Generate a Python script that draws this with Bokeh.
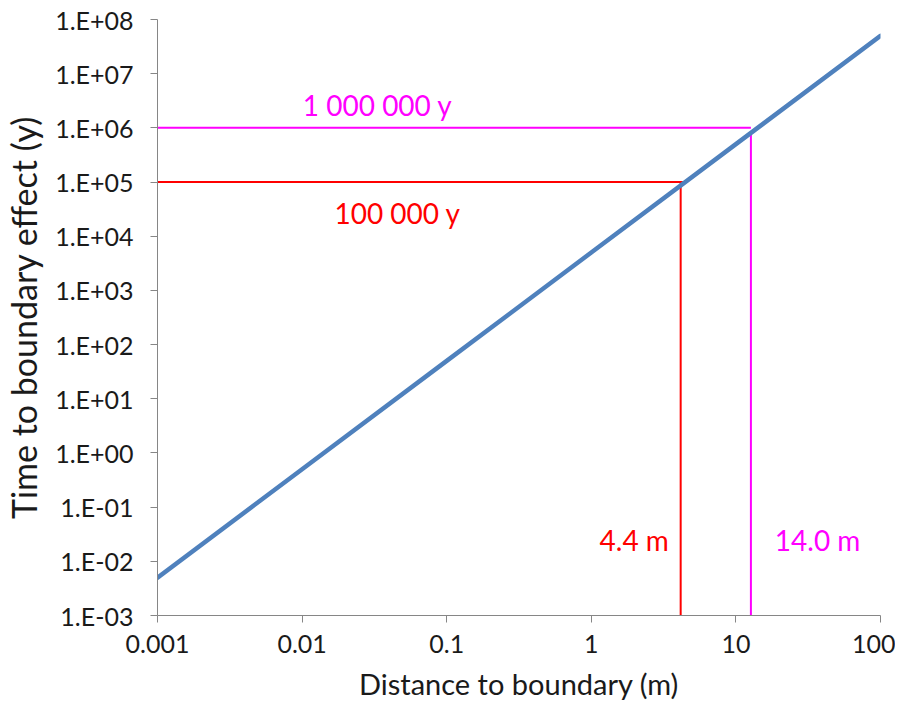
from bokeh.plotting import figure
from bokeh.models import FixedTicker, Label
from bokeh.embed import file_html
from bokeh.resources import INLINE

# Data
distance_m = [0.001, 0.01, 0.1, 1, 10, 100]
time_y = [5e-3, 5e-1, 5e1, 5e3, 5e5, 5e7]

red_time = 1e5
red_dist = 4.15
red_label_t = "100 000 y"
red_label_d = "4.4 m"

mag_time = 1e6
mag_dist = 12.7
mag_end_t = 8.3e5
mag_label_t = "1 000 000 y"
mag_label_d = "14.0 m"

x_ticks = [0.001, 0.01, 0.1, 1, 10, 100]
x_tick_labels = ["0.001", "0.01", "0.1", "1", "10", "100"]
y_ticks = [1e-3, 1e-2, 1e-1, 1e0, 1e1, 1e2, 1e3, 1e4, 1e5, 1e6, 1e7, 1e8]
y_tick_labels = ["1.E-03", "1.E-02", "1.E-01", "1.E+00", "1.E+01", "1.E+02",
                 "1.E+03", "1.E+04", "1.E+05", "1.E+06", "1.E+07", "1.E+08"]

FONT = "Lato"
TXT = "#1a1a1a"
RED = "#ff0000"
MAG = "#ff00ff"
BLUE = "#4f81bd"

p = figure(width=895, height=703, x_axis_type="log", y_axis_type="log",
           x_range=(x_ticks[0], x_ticks[-1]), y_range=(y_ticks[0], y_ticks[-1]),
           output_backend="svg", toolbar_location=None,
           min_border_left=154, min_border_right=15, min_border_top=19, min_border_bottom=88)
p.outline_line_color = None
p.grid.visible = False
p.background_fill_color = "white"

# reference lines
p.line([x_ticks[0], red_dist + 0.15], [red_time, red_time], line_color=RED, line_width=2)
p.line([red_dist, red_dist], [y_ticks[0], red_time], line_color=RED, line_width=2)
p.line([x_ticks[0], mag_dist], [mag_time, mag_time], line_color=MAG, line_width=2)
p.line([mag_dist, mag_dist], [y_ticks[0], mag_end_t], line_color=MAG, line_width=2)

p.line(distance_m, time_y, line_color=BLUE, line_width=4.5, line_cap="round")

# labels
LBL = "28px"
p.add_layout(Label(x=0.0333, y=2.6e6, text=mag_label_t, text_color=MAG, text_font=FONT,
                   text_font_size=LBL, text_align="center", text_baseline="middle"))
p.add_layout(Label(x=0.0457, y=2.7e4, text=red_label_t, text_color=RED, text_font=FONT,
                   text_font_size=LBL, text_align="center", text_baseline="middle"))
p.add_layout(Label(x=3.44, y=0.0245, text=red_label_d, text_color=RED, text_font=FONT,
                   text_font_size=LBL, text_align="right", text_baseline="middle"))
p.add_layout(Label(x=18.6, y=0.0245, text=mag_label_d, text_color=MAG, text_font=FONT,
                   text_font_size=LBL, text_align="left", text_baseline="middle"))

for ax in (p.xaxis[0], p.yaxis[0]):
    ax.axis_line_color = "#868686"
    ax.major_tick_line_color = "#868686"
    ax.minor_tick_line_color = None
    ax.major_tick_out = 7
    ax.major_tick_in = 0
    ax.major_label_text_font = FONT
    ax.major_label_text_font_size = "25px"
    ax.major_label_text_color = TXT
    ax.axis_label_text_font = FONT
    ax.axis_label_text_color = TXT
    ax.axis_label_text_font_style = "normal"

p.xaxis.ticker = FixedTicker(ticks=x_ticks)
p.xaxis.major_label_overrides = {t: l for t, l in zip(x_ticks, x_tick_labels)}
p.yaxis.ticker = FixedTicker(ticks=y_ticks)
p.yaxis.major_label_overrides = {t: l for t, l in zip(y_ticks, y_tick_labels)}
p.xaxis.major_label_standoff = 12
p.yaxis.major_label_standoff = 17
p.xaxis.axis_label = "Distance to boundary (m)"
p.yaxis.axis_label = "Time to boundary effect (y)"
p.xaxis.axis_label_text_font_size = "29px"
p.yaxis.axis_label_text_font_size = "34px"
p.xaxis.axis_label_standoff = 10
p.yaxis.axis_label_standoff = 8

open("out.html", "w").write(file_html(p, INLINE))
